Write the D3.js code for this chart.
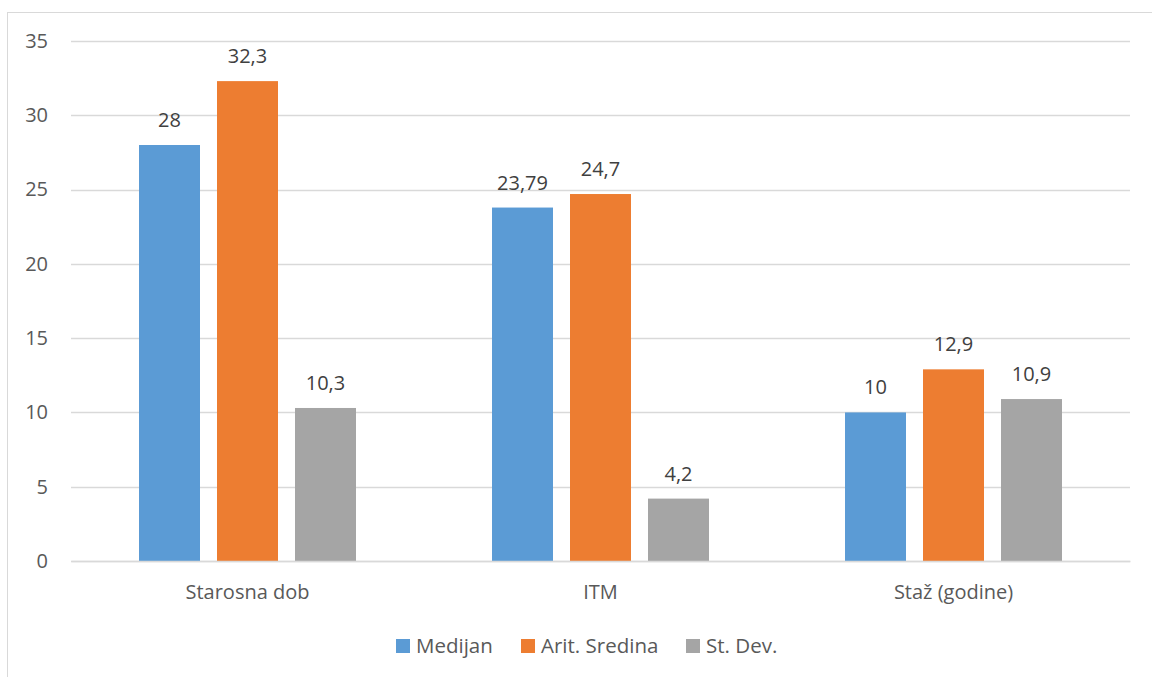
<!DOCTYPE html>
<html>
<head>
<meta charset="utf-8">
<script src="https://cdn.jsdelivr.net/npm/d3@7"></script>
<style>
  body { margin: 0; background: #fff; }
  text { font-family: "Open Sans", "Noto Sans", sans-serif; fill: #595959; }
</style>
</head>
<body>
<div id="chart"></div>
<script>
const categories = ["Starosna dob", "ITM", "Staž (godine)"];
const seriesNames = ["Medijan", "Arit. Sredina", "St. Dev."];
const medijan = [28, 23.79, 10];
const aritSredina = [32.3, 24.7, 12.9];
const stDev = [10.3, 4.2, 10.9];
const yTicks = [0, 5, 10, 15, 20, 25, 30, 35];
const seriesColors = ["#5b9bd5", "#ed7d31", "#a5a5a5"];

const seriesValues = [medijan, aritSredina, stDev];
const rows = categories.map((c, i) => ({
    category: c,
    values: seriesNames.map((s, j) => ({ key: s, value: seriesValues[j][i] }))
}));

const width = 1152, height = 677;
const margin = { top: 41, right: 22, bottom: 116, left: 71 };
const innerW = width - margin.left - margin.right;
const innerH = height - margin.top - margin.bottom;

const svg = d3.select("#chart").append("svg")
    .attr("width", width)
    .attr("height", height);

// chart border
svg.append("rect")
    .attr("x", 7.5).attr("y", 12.5)
    .attr("width", width + 20).attr("height", height + 20)
    .attr("fill", "none")
    .attr("stroke", "#d9d9d9");

const g = svg.append("g").attr("transform", `translate(${margin.left},${margin.top})`);

const y = d3.scaleLinear().domain([0, 35]).range([innerH, 0]);
const x0 = d3.scaleBand().domain(categories).range([0, innerW]).padding(0);
const x1 = d3.scaleBand().domain(seriesNames)
    .range([0, x0.bandwidth()])
    .paddingInner(0.218)
    .paddingOuter(0.872);
const color = d3.scaleOrdinal().domain(seriesNames).range(seriesColors);

// gridlines
g.append("g")
    .selectAll("line")
    .data(yTicks)
    .enter().append("line")
    .attr("x1", 0).attr("x2", innerW)
    .attr("y1", d => Math.round(y(d)) + 0.5)
    .attr("y2", d => Math.round(y(d)) + 0.5)
    .attr("stroke", "#d9d9d9")
    .attr("stroke-width", 1.3);

// y axis labels
const yAxis = g.append("g")
    .call(d3.axisLeft(y).tickValues(yTicks).tickSize(0).tickPadding(23));
yAxis.select(".domain").remove();
yAxis.selectAll("text")
    .style("font-size", "20px")
    .style("font-family", "'Open Sans', sans-serif")
    .attr("fill", "#595959");

// bars
const groups = g.append("g")
    .selectAll("g")
    .data(rows)
    .enter().append("g")
    .attr("transform", d => `translate(${x0(d.category)},0)`);

groups.selectAll("rect")
    .data(d => d.values)
    .enter().append("rect")
    .attr("x", d => x1(d.key))
    .attr("y", d => y(d.value))
    .attr("width", x1.bandwidth())
    .attr("height", d => innerH - y(d.value))
    .attr("fill", d => color(d.key));

groups.selectAll("text.label")
    .data(d => d.values)
    .enter().append("text")
    .attr("class", "label")
    .attr("x", d => x1(d.key) + x1.bandwidth() / 2)
    .attr("y", d => y(d.value) - 18)
    .attr("text-anchor", "middle")
    .style("font-size", "20px")
    .style("fill", "#404040")
    .text(d => String(d.value).replace(".", ","));

// x axis
const xAxis = g.append("g")
    .attr("transform", `translate(0,${innerH})`)
    .call(d3.axisBottom(x0).tickSize(0).tickPadding(24));
xAxis.select(".domain").attr("stroke", "#d9d9d9").attr("stroke-width", 1.3);
xAxis.selectAll("text")
    .style("font-size", "20px")
    .style("font-family", "'Open Sans', sans-serif")
    .attr("fill", "#595959");

// legend
const legendX = [396, 521, 686];
const legend = svg.append("g")
    .selectAll("g")
    .data(seriesNames)
    .enter().append("g")
    .attr("transform", (d, i) => `translate(${legendX[i]},639)`);
legend.append("rect")
    .attr("width", 14).attr("height", 14)
    .attr("fill", d => color(d));
legend.append("text")
    .attr("x", 20).attr("y", 14)
    .style("font-size", "20.5px")
    .text(d => d);
</script>
</body>
</html>
